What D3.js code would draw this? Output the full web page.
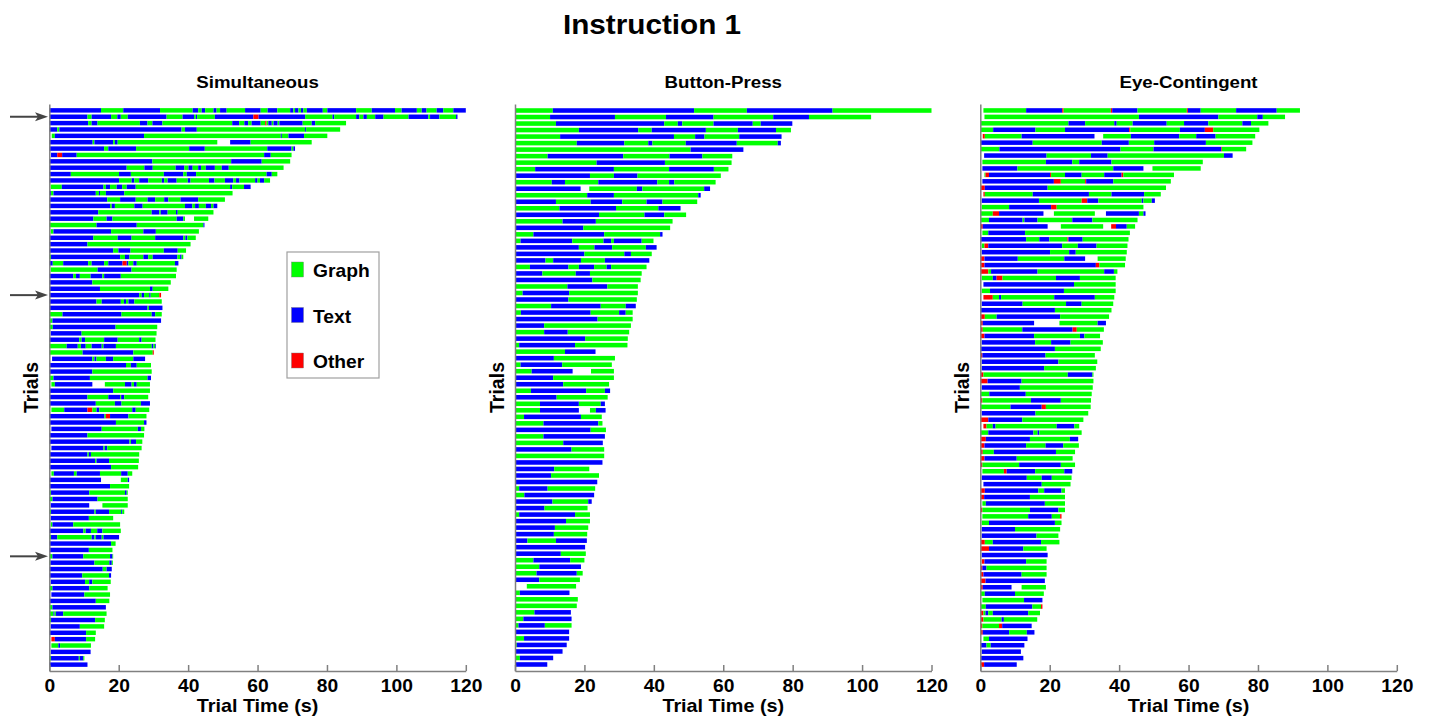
<!DOCTYPE html>
<html>
<head>
<meta charset="utf-8">
<script src="https://cdn.jsdelivr.net/npm/d3@7"></script>
<style>
  body { margin: 0; background: #fff; }
  svg { display: block; }
  text { font-family: "Liberation Sans", Arial, sans-serif; font-weight: bold; fill: #000; }
</style>
</head>
<body>
<svg id="chart"></svg>
<script>
// ---- data ----
const figTitle = "Instruction 1";
const panelTitles = ["Simultaneous", "Button-Press", "Eye-Contingent"];
const xTicks = [0, 20, 40, 60, 80, 100, 120];
const xLabel = "Trial Time (s)";
const yLabel = "Trials";
const legendLabels = ["Graph", "Text", "Other"];
const legendCodes = ["G", "T", "O"];
const arrowTrials = [2, 30, 71];

// one string per trial, top to bottom: code + end time (s)
// G = Graph, T = Text, O = Other, _ = no fixation
const simultaneous = [
  "T14.9 G21.3 T31.9 G41.3 T42.9 G43.9 T44.9 G47.3 T48.2 G49.2 T51.1 G56.4 T60.9 G62.9 T65.7 G69.4 T70.3 G70.8 T71.8 G72.5 T73.2 G74.2 T78.8 G80.1 T88.4 G92.9 T99.6 G101.5 T105.9 G107.3 T108.7 G111.6 T113.5 G116.4 T120",
  "T11 G12.2 T17.8 G19.6 T20.6 G22.6 T33.8 G38.4 T41.7 G42.2 T42.6 G47.7 T58.8 O60.3 T73.7 G81.6 T82.1 G88.4 T89.3 G90.5 T91.5 G93.9 T96.3 G103.5 T109.2 G109.7 T112.4 G117.2 T117.6",
  "T11.2 G12.2 T13.9 G26.1 T28.3 G29.7 T32.6 G52.7 T54.7 G56.2 T57.3 G58.3 T60.9 G62.2 O62.6 G63.1 T64.1 G64.6 T65.8 G66.3 T73 G75.6 T76.6 G85.5",
  "T2.3 G2.9 T38.1 G39.1 T42.5 G73.7 T74 G83.8",
  "_0.7 G1.6 T27.3 G66.7 T67 G68.9 T73.4 G80.1",
  "T12.5 G13 T18.4 G18.9 T19.7 G48.4 _52.1 T58 G75.6",
  "T15.8 G17 T25 G40.3 T44.8 G62.8 T69.8 G70.3 T70.8",
  "_0.5 T2.3 O3.7 T7.9 G61.9 T63.8 G69.8",
  "T29.7 G52.4 T61.2 G69.4",
  "T22.3 G27.4 T29.8 G36.4 T38.9 G40.1 T41.3 G42.9 T43.7 G45.1 T47.7 G49.7 T51.7 G67.5",
  "T6.2 G20.1 T23.5 G33 T38.6 G39.6 T42.3 G62.6 T64.1 G65.7",
  "T20.1 G23.7 T24.5 G25.9 T28.5 G32.4 T33.1 G34.1 T36.7 G39.9 T40.7 G46 T47.6 G50.6 T53 G53.8 T54.8 G59.3 T60 G60.7 T61.9 G63.6",
  "_0.4 G3.6 T15.6 G16.3 T17.5 G19.4 T21 G22.3 T24.9 G52.1 T52.7 G56.1 T58",
  "T0.5 G1.2 T13.4 G14.3 T14.6 G16.3 T21.6 G52.8",
  "T16.7 G20.4 T24.9 G28.3 T30.5 G33.1 T34.3 G37.8 T42.9 G50.6",
  "T17.5 G18 T18.9 G24.5 T26.9 G39.1 T41.2 G42 T43.1 G45.1 T46.6 G47.3 T48.4",
  "T14.1 G29.5 T31.7 G32.1 T34.1 G36.5 T37 G47.3",
  "T12.7 G16.5 T18.2 G36.7 T38.6 G39.1 _41.7 G45.8",
  "G13.6 T25.2 G44.4 T44.7",
  "_0.4 G1.2 T17.8 G27.1 T30.7 G43.1",
  "T12.7 G19.7 T23.7 G30.5 T38.6 G39.2 T39.8 G42.2",
  "T11 G40.7",
  "T18.4 G19.9 T23.4 G33 T37 G39.4",
  "G0.5 T20.4 G21.8 T23.1 G27.1 T28.5 G29.8 T36.9 G37.7 T38.1 G38.6",
  "T1 G4 T11.2 G12.2 T15.8 G17 T21.1 O22.3 T22.8 G24.2 T25.2 G36.2 T37.2",
  "_0.4 G13.9 T23.7 G36.7",
  "T6.9 G7.7 T8.8 G11.9 T15.3 G15.8 T20.6 G36.5",
  "T12.4 G35",
  "T14.6 G29 T29.8 G34.3",
  "T25.9 G26.6 T27.3 G28.8 T29.2 G31.7 O32.2",
  "T13.6 G15.1 T20.6 G21.5 T22.1 G22.8 T24.5 G32.4",
  "T28.3 G28.7 T32.6",
  "G3.8 T20.8 G29.5 T30.5 G32.4",
  "G0.9 T32.2",
  "G1 T19.1 G31.1",
  "_0.4 T9.3 G30.9",
  "T8.6 G9.3 T10.3 G15.8 T19.7 G25.9 T26.6 G30.6",
  "G5 T8.2 G9.1 T10.5 G12.2 T15.1 G15.6 T19.2 G29.5 T30 G30.5 T30.7",
  "G9.6 T24.2 G29.8 O30.1",
  "_0.8 T12.4 G13 T13.6 G16.3 T18.4 G24.2 T27.6",
  "T22.1 G23.5 T25.2 G29.3",
  "T12.4 G29.5",
  "G1.2 T11.7 G28.3 T29.3",
  "_0.6 G1.6 T12.4 _16 G21.8 T23.7 G24.4 T25.2 G29",
  "T18.4 G29",
  "T11 G17 T20.4 G20.7 T21.6 G28.5",
  "T13.4 G18.9 T20.8 G26.4 T29",
  "_0.6 G4.3 T11 O12.4 G13.6 T14.4 G23.9 T24.9 G28.8",
  "T15.9 G16.3 O17.5 T22.8 G28",
  "T19.2 G27.3 T28",
  "_0.6 T15.1 G25.5 T26.4 G27.4",
  "T11 G27.3",
  "T23.1 G23.5 T25 G26.8",
  "_0.6 T15.6 G16 T16.7 G26.6",
  "T11 G11.4 T12 G25.9",
  "T13.2 G13.6 T17.2 G25.8",
  "T17.8 G25.6",
  "_0.6 G1.3 T7.1 G7.9 T14.6 G20.7 T22.6 G23.9",
  "T14.9 _20.6 G22.6 T23",
  "T17.5 G23",
  "G0.5 T11.5 G21.8 T22.3 G22.6",
  "G0.9 T13.9 G22.6",
  "_0.4 T11.5 _15.3 G22.6",
  "G0.5 T13 G13.4 T17.2 G20.7 T21 G21.6",
  "_0.4 T11.4 G18.4",
  "_0.4 G0.9 T6.9 G20.4",
  "T9.8 G10.5 T12 G13.8 T15.3 G20.6",
  "G0.5 T2.3 G12.2 T13 G13.4 T15.1 G15.6 T20.1",
  "T17.8 G19.1",
  "T11.4 G18.2",
  "G0.9 T9.8 G17.5 T18.2 G18.4",
  "G0.3 T13 G17.3 T18 G18.3",
  "T15.4 G16.5 T18",
  "T9.5 G17.2 T17.8",
  "_0.4 T10.3 G11.5 T12.4 G17.7",
  "G0.9 T11.5 G16.8",
  "_0.6 T10.1 G17.5",
  "T13.4 G17.3",
  "G0.9 T16.3",
  "G1.2 T1.5 G1.9 T4 G16.5",
  "G0.5 T13.2 G16",
  "_0.4 T8.8 G15.8",
  "T10.6 G13.4",
  "_0.6 O1.6 T10.6 G13.2",
  "_0.6 G2.6 T3.1 G12",
  "_0.4 T11.9",
  "G0.5 T8.5 G8.8 T9.8 G10.1",
  "T11"
];

const buttonPress = [
  "G10.9 T51.6 G66.8 T91.5 G120",
  "G10.1 T28.8 G43.5 T57.2 G74.4 T84.7 G102.6",
  "G11.8 T43 G46.9 T48.2 G57.2 T68.5 G70.8 T79.9",
  "G18.4 T35.5 G39.4 T55 G64.2 T75.2 G79.5",
  "G13 T45.8 G51.9 T54.6 G64.6 T76.8",
  "G17.8 T31.5 G38.4 T39.6 G49.2 T63.9 G75.7 T76.6",
  "G50.6 T65.8",
  "G9.4 T31.2 G44.5 T54 G62.6",
  "G23.5 T43.2 G62.4",
  "G5.8 T28.5 G44.4 T57.3 G61.5",
  "T21.6 G28.5 T35.3 G59.3",
  "G10.6 T14.4 G24 T41 G44.4 T45.9 G57.8",
  "T18.9 _21.4 G35.1 T36.7 G54.5 T56.2",
  "G20.8 T28.5 G52.8 T53.5",
  "T11.8 G21.8 T30.9 G37.9 T42.5 G52.5",
  "G12.8 T29.1 G41.3 T47.7",
  "T24.2 G37.3 T43 G49.3",
  "G13.7 T23.3 G45.4",
  "T19.7 G44.7",
  "G5.3 T25.7 G41.8 T42.5",
  "G1.6 T16.5 G25.5 T27.7 G28.5 T36.5 G39.9",
  "T18.4 G22.9 T28 G37.7 T40.8",
  "T20 G31.5 T33.4 G39.4",
  "T8.8 G11 T19 G25.9 T38.7",
  "G4.3 T15.4 G18.4 T22.8 G26.4 T27.7 G37.9",
  "T7.9 G17.5 T21.6 G36.5",
  "T22.3 G36.2",
  "G15.1 T26.6 G35.4",
  "G2.2 T15.6 G35.4",
  "T15.4 G35.1",
  "G10.4 T24.7 G31.9 T34.8",
  "G1.7 T21.8 G30 T31.9 G33.9",
  "T23.8 G33.9",
  "T8.4 G33.4",
  "G8.4 T15.2 G32.9",
  "T20.2 G32.5",
  "G1.2 T17.3 G32.4",
  "G14.4 T23.2",
  "T11.2 G28.8",
  "G1.6 T13.6 G27.9",
  "G4.8 T16.6 _21.9 G28.5",
  "T11 G28.5",
  "T13.9 G27.1",
  "G4.6 T20.5 G25.9 T27.4",
  "T12 G26.7",
  "G7.2 T18.4 G24.7 T25.9",
  "G7.2 T18.4 _21.6 G23.3 T26.1",
  "G2.6 T19 G25",
  "G8.2 T24 G25.2",
  "T21.8 G26.2",
  "G8.2 T25.9",
  "G13.9 T25.3",
  "T16.3 G25.7",
  "G25.7",
  "T25.2",
  "T11.3 G21.4",
  "T10.4 G24.2",
  "T23.7",
  "G1.2 T9.4 G23.1",
  "G2.7 T22.8",
  "T10.8 G21.1 T22.1",
  "T8.5 G20.9",
  "G1.2 T17.3 G21.6",
  "T14.7 G21.6",
  "T11.5 G21.1",
  "T11.2 G20.8",
  "T3.6 G11.8 T20.7",
  "T20.2",
  "T13.2 G20.4",
  "G5.3 T15.9 G20",
  "G7 T19",
  "G6.2 T17.8 G19.5",
  "T7 G18.7",
  "_3.4 G17.6",
  "G1.4 T15.7",
  "G18.1",
  "G17.8",
  "G5.6 T16.1",
  "G2.4 T16.3",
  "G1 T8.6 G16.3",
  "T15.6",
  "G2.6 T15.6",
  "G0.5 T14.9",
  "T13.7",
  "G1.4 T11",
  "T9.3"
];

const eyeContingent = [
  "_0.9 G13.2 T23.6 O24 G37.6 O38 T45.3 G59.5 O59.8 T63.5 G73.7 T85.4 G92.1",
  "_1.2 G45.7 T68.6 G79.8 T81.4 G87.8",
  "_0.2 G25.4 T30.2 G38.6 T39.3 G43.9 T53.7 G58.7 T65.7 G75.5 T78 G83",
  "_0.2 G3.7 T15.9 G24.4 T42.9 O43.2 G57.5 T64.7 O67.1 G80.4",
  "_0.7 O1.3 G11.9 T32.9 _35.4 G43.4 T57.3 G62.2 T67.8 G79.2",
  "T15.1 G35 T42.8 G50.1 T65 G78.4",
  "_0.2 G5.5 T40.4 G49.9 T69.4 O69.6 G76.6",
  "_1.1 T19.1 G31.9 T36.7 G70.2 T72.7",
  "_0.6 G18.9 T26.5 G28.5 T37.8 G64.1",
  "_0.6 T10.7 G38.3 T47 _49.6 G63.5",
  "_1.2 G1.5 O2.5 T20.1 O20.4 G24.4 T29.2 G35.7 T40.7 O41.2 G55.8",
  "_0.6 T21.2 O23.2 G30.2 O30.5 T38.3 G54.9",
  "_0.2 O1.3 T19.4 G53.5",
  "_0.9 O1.3 G15.1 T31.3 G37.8 T47.2 G52",
  "_0.4 T16.9 G29.2 O30.8 T34 G46.5 T47 G49.4 T50.3",
  "_0.4 G8.3 T20.4 O22 G47",
  "G3.6 O5.4 T18.2 _21.2 G33 _36.2 T45.7 G47 T47.6",
  "G2.5 T12.2 G12.7 T16.5 G26.5 T32.3 G45.3",
  "O0.7 T19.4 _23.2 G35.4 _37.7 O39.1 T42.2 G44.6",
  "_0.6 G2.3 T12.9 G43.1",
  "T13.2 G17 T19.9 G25.1 O25.4 T29.5 G42.7",
  "_0.4 G1.2 O2.3 T23.6 G28.1 T33.5 G42.4",
  "_0.4 T20.1 G25.6 T27.5 G42.2",
  "O1.2 T10.8 G24.2 T30.2 _33.8 G41.9",
  "O1.2 T33.3 O34.3 G41.7",
  "O2.3 G3.1 T16.5 G35.7 T38.5 G39.5",
  "_0.4 G3.6 T4.7 O6.4 G21.8 T28.7 G39",
  "_0.9 T27 G39",
  "_0.4 G2.8 T24.1 G39",
  "_0.9 O3.6 G5.4 T6 G21.3 T33 G38.6",
  "_0.4 T12.2 G24.7 T29.2 G38.3",
  "T21.5 G37.8",
  "O1.3 G4.7 T23 G37.1",
  "O0.7 T15.5 _22.8 G33.8 T36.2",
  "O0.7 G12.1 T26.6 O27.8 G35.6",
  "O1.2 T15.5 G28.7 T30 G34.5",
  "_0.4 T15.8 G20.4 T26 G35.3",
  "T21.5 G34.7",
  "O0.6 T18.8 G33",
  "_0.4 T22.5 G33.7",
  "_0.4 T18.4 G33.3",
  "O0.9 G25.2 T32.3 G32.6",
  "O2.1 T11.9 G32.6",
  "_0.4 T11.4 G32.4",
  "G2.6 T13.1 G32.1",
  "O0.6 G14.6 T23.2 G31.9",
  "G8.7 T17.7 O18.9 G31.8",
  "_0.4 T15.9 G31.1",
  "O2.3 T12.1 G29.7",
  "_0.9 O1.8 G3.6 T4.4 G22 T27.1 G28.5",
  "G2.3 T15.3 G16.5 T17 G29.2",
  "_0.2 O1.6 T14.3 G25.8 T28.2",
  "O1.2 T13.2 G18.8 T23.9 G28.4",
  "O0.7 G3.9 T21.8 G27.3",
  "O1.2 T10.5 G26.6",
  "O0.6 G11.2 T23.2 G27.3",
  "_0.6 G6.8 O7.6 T15.8 G24.2 T26.5",
  "_0.4 T13.4 G17.7 T20.6 G26.3",
  "_0.9 T17.7 G26",
  "O1.3 T16.7 G18.4 T23.4 G24.4",
  "O1.1 T14.3 G24.4",
  "_0.6 G1.6 T18.6 G24.4",
  "O0.6 G14.3 T22.5 G24.4",
  "_0.6 G13.8 T20.6 G23 O23.4",
  "_0.4 G2.5 T21.5 G23.4",
  "_0.4 T10 G23",
  "_0.4 T16.2 G22.5",
  "_0.2 O1.3 G3.6 T17.5 G22.8",
  "O2.5 T12.4 G19.1",
  "_0.4 T19.4",
  "_0.4 O1.2 T13.2 G19.1",
  "O0.6 T1.8 G19.1",
  "O0.9 T11.9 G19.1",
  "O1.5 T18.6",
  "O0.7 T9 _11.9 G18.9",
  "G1.3 T10 G18.3",
  "_0.6 G12.6 T17.9",
  "_0.2 G1.6 T15 G17.5 O17.9",
  "O0.9 G1.5 T2.3 G3.6 T13.8 G17.2",
  "_0.2 O0.9 G6.1 T6.8 G16.4",
  "O0.6 G5.4 O6.3 T14.8",
  "O0.7 T8.3 G13.4 T15.6",
  "_0.9 G2.5 T13.6",
  "T1.8 G3 T12.7",
  "_0.4 T11.7",
  "T12.4",
  "O1.1 T10.5"
];

const colors = { G: "#00ff00", T: "#0000ff", O: "#ff0000" };

// the source figure is a little wider than tall, so the type is stretched sideways
const stretch = 'scale(1.1,1)';

function parseTrial(str) {
    let prev = 0;
    return str.split(" ").map(tok => {
        const seg = { code: tok[0], start: prev, end: +tok.slice(1) };
        prev = seg.end;
        return seg;
    }).filter(d => d.code !== "_");
}

class TrialRaster {

    constructor(_config) {
        this.config = {
            parent: _config.parent,
            left: _config.left,
            width: _config.width || 416.5,
            top: _config.top || 104,
            bottom: _config.bottom || 671,
            title: _config.title,
            arrows: _config.arrows || []
        };
        this.data = _config.data;
        this.initVis();
    }

    initVis() {
        let vis = this;
        const c = vis.config;

        vis.g = c.parent.append('g');

        vis.x = d3.scaleLinear()
            .domain([0, 120])
            .range([c.left, c.left + c.width]);

        vis.y = d3.scaleLinear()
            .domain([0, vis.data.length + 1])
            .range([c.top, c.bottom]);

        vis.render();
    }

    render() {
        let vis = this;
        const c = vis.config;
        const barH = (vis.y(1) - vis.y(0)) * 0.7;

        const trials = vis.data.map((s, i) => ({ row: i + 1, segs: parseTrial(s) }));

        vis.g.append('g')
            .selectAll('g')
            .data(trials)
            .join('g')
            .selectAll('rect')
            .data(d => d.segs.map(s => ({ ...s, row: d.row })))
            .join('rect')
            .attr('x', d => vis.x(d.start))
            .attr('width', d => Math.max(0.6, vis.x(d.end) - vis.x(d.start)))
            .attr('y', d => vis.y(d.row) - barH / 2)
            .attr('height', barH)
            .attr('fill', d => colors[d.code]);

        // axes
        const xAxis = d3.axisBottom(vis.x)
            .tickValues(xTicks)
            .tickSize(-6)
            .tickSizeOuter(0)
            .tickPadding(9);

        const xg = vis.g.append('g')
            .attr('transform', `translate(0,${c.bottom})`)
            .call(xAxis);
        xg.selectAll('path, line').attr('stroke', '#808080').attr('stroke-width', 1.5);
        xg.selectAll('text')
            .attr('font-size', 17.5)
            .attr('font-family', '"Liberation Sans", Arial, sans-serif')
            .attr('font-weight', 'bold')
            .attr('fill', '#000')
            .attr('transform', stretch);

        const yg = vis.g.append('g')
            .attr('transform', `translate(${c.left},0)`)
            .call(d3.axisLeft(vis.y).tickValues([]).tickSizeOuter(0));
        yg.selectAll('path').attr('stroke', '#808080').attr('stroke-width', 1.5);

        // labels
        const cx = c.left + c.width / 2;
        vis.g.append('text')
            .attr('transform', `translate(${cx},88) ${stretch}`)
            .attr('text-anchor', 'middle')
            .attr('font-size', 17)
            .text(c.title);

        vis.g.append('text')
            .attr('transform', `translate(${cx},711.5) ${stretch}`)
            .attr('text-anchor', 'middle')
            .attr('font-size', 18)
            .text(xLabel);

        vis.g.append('text')
            .attr('transform', `translate(${c.left - 11},${(c.top + c.bottom) / 2}) rotate(-90)`)
            .attr('text-anchor', 'middle')
            .attr('font-size', 19.5)
            .text(yLabel);

        // trial markers
        vis.g.append('g')
            .selectAll('g')
            .data(c.arrows)
            .join('g')
            .attr('transform', d => `translate(0,${vis.y(d)})`)
            .call(g => g.append('line')
                .attr('x1', 10).attr('x2', 40)
                .attr('stroke', '#444').attr('stroke-width', 2))
            .call(g => g.append('path')
                .attr('d', 'M48,0 L35,-4.5 L38,0 L35,4.5 Z')
                .attr('fill', '#444'));
    }
}

const W = 1432, H = 717;
const svg = d3.select('#chart').attr('width', W).attr('height', H);

svg.append('text')
    .attr('transform', `translate(652,34) ${stretch}`)
    .attr('text-anchor', 'middle')
    .attr('font-size', 27)
    .text(figTitle);

const lefts = [49.3, 515, 980.3];
[simultaneous, buttonPress, eyeContingent].forEach((data, i) => {
    new TrialRaster({
        parent: svg,
        left: lefts[i],
        data: data,
        title: panelTitles[i],
        arrows: i === 0 ? arrowTrials : []
    });
});

// legend (first panel)
const legend = svg.append('g').attr('transform', 'translate(287,252)');
legend.append('rect')
    .attr('width', 92).attr('height', 126)
    .attr('fill', '#fff').attr('stroke', '#a0a0a0').attr('stroke-width', 1.2);
const items = legend.selectAll('g')
    .data(legendLabels)
    .join('g')
    .attr('transform', (d, i) => `translate(0,${18 + i * 45.5})`);
items.append('rect')
    .attr('x', 4.5).attr('y', -8)
    .attr('width', 12).attr('height', 15)
    .attr('fill', (d, i) => colors[legendCodes[i]])
    .attr('stroke', '#777').attr('stroke-width', 0.4);
items.append('text')
    .attr('transform', `translate(26,7) ${stretch}`)
    .attr('font-size', 17.5)
    .text(d => d);
</script>
</body>
</html>
